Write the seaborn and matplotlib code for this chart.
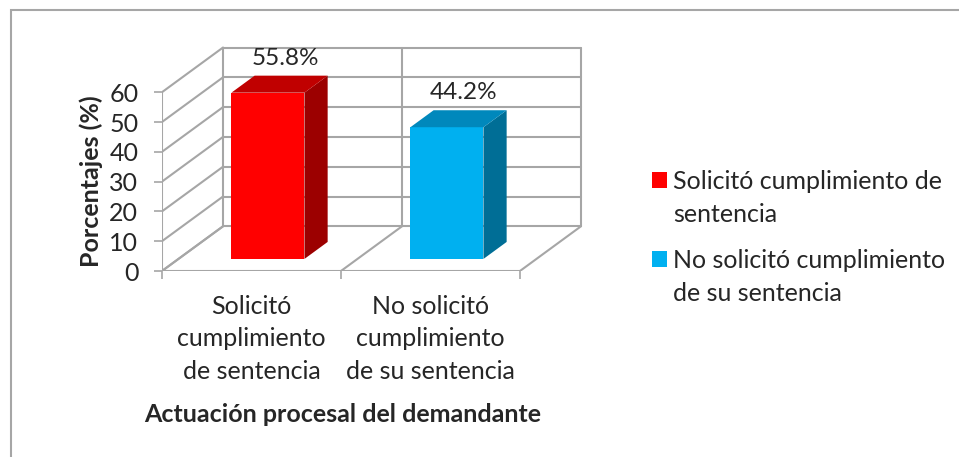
import pandas as pd
import seaborn as sns
import matplotlib.pyplot as plt
from matplotlib.patches import Polygon, Patch, Rectangle
from matplotlib.legend_handler import HandlerPatch

# Data
categories = ["Solicitó\ncumplimiento\nde sentencia", "No solicitó\ncumplimiento\nde su sentencia"]
legend_labels = ["Solicitó cumplimiento de\nsentencia", "No solicitó cumplimiento\nde su sentencia"]
percentages = [55.8, 44.2]
value_labels = ["55.8%", "44.2%"]
yticks = [0, 10, 20, 30, 40, 50, 60]

front_colors = ["#FF0000", "#00B0F0"]
side_colors = ["#9C0000", "#006E96"]
top_colors = ["#C00000", "#0088BC"]

df = pd.DataFrame({"cat": categories, "pct": percentages})

sns.set_style("white")
plt.rcParams["font.family"] = ["Lato", "DejaVu Sans"]
FS = 18

fig = plt.figure(figsize=(9.59, 4.57), dpi=100)
ax = fig.add_axes([0.1689, 0.4070, 0.4386, 0.4923])

# 3D depth of the box (x in category units, y in percent units)
DX, DY = 0.341, 15.0
BAR_F = 0.27        # depth position of the bar front face
BAR_D = 0.38        # bar depth as fraction of the box depth
GRID = "#A6A6A6"

sns.barplot(data=df, x="cat", y="pct", hue="cat", palette=front_colors,
            saturation=1, width=0.408, legend=False, ax=ax, zorder=3)

ax.set_xlim(-0.5, 1.85)
ax.set_ylim(0, 75.5)

# walls
ymax = yticks[-1]
for y in yticks:
    ax.plot([-0.5 + DX, 1.5 + DX], [y + DY, y + DY], color=GRID, lw=1.5, zorder=1)
    ax.plot([-0.5, -0.5 + DX], [y, y + DY], color=GRID, lw=1.5, zorder=1)
for xb in [-0.5, 0.5, 1.5]:
    ax.plot([xb + DX, xb + DX], [DY, ymax + DY], color=GRID, lw=1.5, zorder=1)
    ax.plot([xb, xb + DX], [0, DY], color=GRID, lw=1.5, zorder=1)
ax.plot([-0.5, 1.5], [0, 0], color=GRID, lw=1.5, zorder=1)
ax.plot([-0.5, -0.5], [0, ymax], color=GRID, lw=1.5, zorder=1)

# turn flat bars into 3D columns
bdx, bdy = DX * BAR_D, DY * BAR_D
for i, bar in enumerate(ax.patches[:len(percentages)]):
    x0 = bar.get_x() + DX * BAR_F
    y0 = DY * BAR_F
    w, h = bar.get_width(), bar.get_height()
    bar.set_x(x0)
    bar.set_y(y0)
    bar.set_linewidth(0)
    side = Polygon([(x0 + w, y0), (x0 + w + bdx, y0 + bdy),
                    (x0 + w + bdx, y0 + h + bdy), (x0 + w, y0 + h)],
                   closed=True, facecolor=side_colors[i], lw=0, zorder=3)
    top = Polygon([(x0, y0 + h), (x0 + bdx, y0 + h + bdy),
                   (x0 + w + bdx, y0 + h + bdy), (x0 + w, y0 + h)],
                  closed=True, facecolor=top_colors[i], lw=0, zorder=3)
    ax.add_patch(side)
    ax.add_patch(top)
    ax.annotate(value_labels[i], (x0 + (w + bdx) / 2 + 0.03, y0 + h + bdy),
                xytext=(0, 5), textcoords="offset points",
                ha="center", va="bottom", fontsize=FS - 0.5, zorder=4)

for s in ax.spines.values():
    s.set_visible(False)

ax.set_yticks(yticks)
ax.set_yticklabels([str(t) for t in yticks], fontsize=FS)
ax.tick_params(axis="y", length=6, width=1.2, color=GRID, pad=11, left=True)
ax.set_xticks([0, 1])
ax.set_xticklabels(categories, fontsize=FS, linespacing=1.5)
ax.tick_params(axis="x", length=0, pad=17)
ax.set_xticks([-0.5, 0.5, 1.5], minor=True)
ax.tick_params(axis="x", which="minor", length=6, width=1.2, color=GRID, bottom=True)

ax.set_xlabel("Actuación procesal del demandante", fontsize=FS, weight="bold")
ax.xaxis.set_label_coords(0.430, -0.586)
ax.set_ylabel("Porcentajes (%)", fontsize=FS, weight="bold")
ax.yaxis.set_label_coords(-0.140, 0.40)


# legend square sits next to the first text line
class TopSquare(HandlerPatch):
    def create_artists(self, legend, orig_handle, xdescent, ydescent,
                       width, height, fontsize, trans):
        shift = 0.5 * 31 * 0.72 + 2
        p = Rectangle((-xdescent, -ydescent + shift), width, height,
                      facecolor=orig_handle.get_facecolor(), edgecolor="none",
                      transform=trans)
        return [p]


handles = [Patch(facecolor=c, edgecolor="none") for c in front_colors]
leg = fig.legend(handles, legend_labels, loc="upper left",
                 bbox_to_anchor=(0.656, 0.678), frameon=False,
                 fontsize=FS, handlelength=0.6, handleheight=0.6,
                 handletextpad=0.25, labelspacing=0.9,
                 handler_map={Patch: TopSquare()})
for t in leg.get_texts():
    t.set_linespacing(1.55)

# chart border
fig.patches.append(Rectangle((11 / 959, -0.1), 1.1, (457 - 10) / 457 + 0.1,
                             transform=fig.transFigure, fill=False,
                             edgecolor="#A6A6A6", lw=1.5))

plt.savefig("out.png", dpi=100)
